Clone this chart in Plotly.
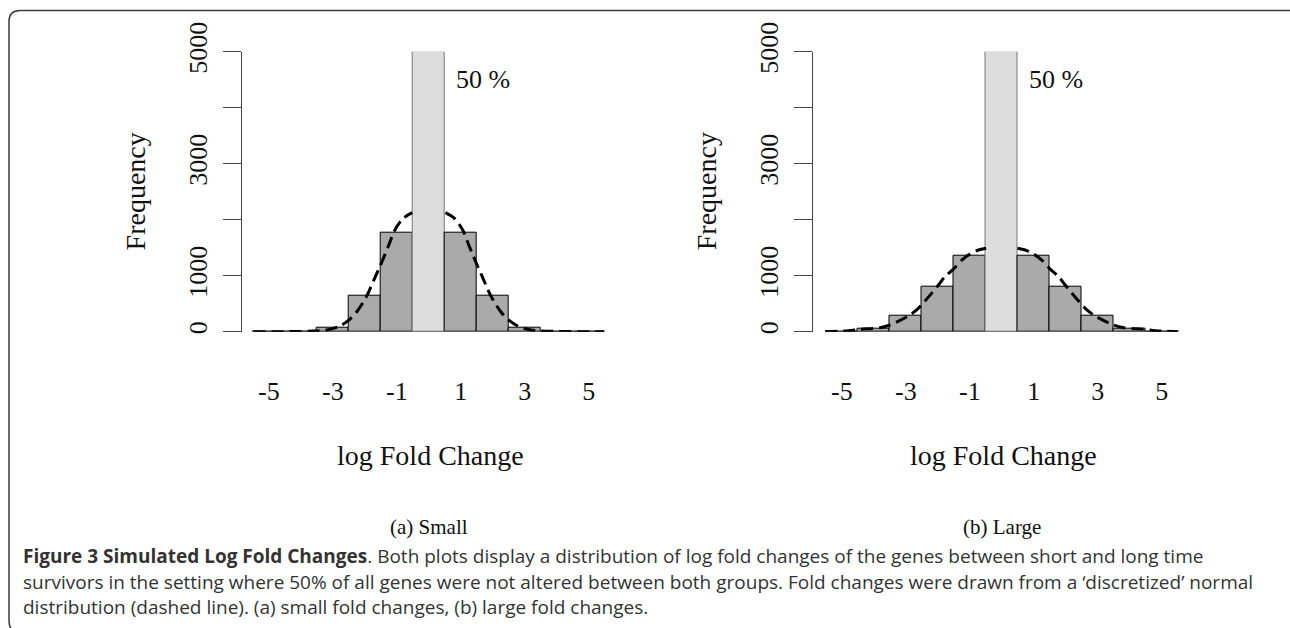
import plotly.graph_objects as go

W, H = 1290, 628

# ---------------- data ----------------
bins = [-5, -4, -3, -2, -1, 0, 1, 2, 3, 4, 5]
freq_small = [0, 0, 80, 637, 1775, 5000, 1775, 637, 80, 0, 0]
freq_large = [0, 60, 280, 800, 1352, 5000, 1352, 800, 280, 60, 0]

# dashed "discretized normal" curve (hidden part behind centre bar omitted)
curve_small_x = [-5.48, -3.19, -2.78, -2.52, -2.25, -1.94, -1.68, -1.53, -1.27, -1.06, -0.80, -0.52,
                 None,
                 0.52, 0.80, 1.06, 1.27, 1.53, 1.68, 1.94, 2.25, 2.52, 2.78, 3.19, 5.48]
curve_small_y = [0, 30, 102, 197, 357, 637, 971, 1161, 1518, 1816, 2025, 2125,
                 None,
                 2125, 2025, 1816, 1518, 1161, 971, 637, 357, 197, 102, 30, 0]
curve_large_x = [-5.52, -4.80, -4.43, -3.81, -3.49, -2.92, -2.66, -2.40, -1.98, -1.78, -1.52, -1.25, -0.99, -0.73, -0.49,
                 None,
                 0.49, 0.73, 0.99, 1.25, 1.52, 1.78, 1.98, 2.40, 2.66, 2.92, 3.49, 3.81, 4.43, 4.80, 5.52]
curve_large_y = [0, 18, 42, 71, 120, 280, 388, 548, 834, 982, 1114, 1280, 1388, 1459, 1489,
                 None,
                 1489, 1459, 1388, 1280, 1114, 982, 834, 548, 388, 280, 120, 71, 42, 18, 0]

x_tick_vals = [-5, -3, -1, 1, 3, 5]
y_tick_vals = [0, 1000, 2000, 3000, 4000, 5000]
y_tick_text = ["0", "1000", "", "3000", "", "5000"]
pct_label = "50 %"
panel_labels = ["(a) Small", "(b) Large"]
x_title = "log Fold Change"
y_title = "Frequency"

SERIF = "Liberation Serif, Times New Roman, serif"
SANS = "Open Sans, Noto Sans, sans-serif"


def px(xp):
    return xp / W


def py(yp):
    return 1 - yp / H


fig = go.Figure()

panels = [
    dict(freq=freq_small, cx=curve_small_x, cy=curve_small_y, xa="x", ya="y",
         axis_px=241.7, zero_px=428.8, label=panel_labels[0]),
    dict(freq=freq_large, cx=curve_large_x, cy=curve_large_y, xa="x2", ya="y2",
         axis_px=812.5, zero_px=1001.8, label=panel_labels[1]),
]
unit = 32.0
top_px, base_px = 51.7, 331.7

for i, p in enumerate(panels):
    colors = ["#DDDDDD" if b == 0 else "#AAAAAA" for b in bins]
    lcolors = ["#777777" if b == 0 else "#000000" for b in bins]
    fig.add_trace(go.Bar(x=bins, y=p["freq"], width=1, marker=dict(color=colors,
                         line=dict(color=lcolors, width=1)), xaxis=p["xa"], yaxis=p["ya"],
                         cliponaxis=False, showlegend=False))
    fig.add_trace(go.Scatter(x=[bins[0] - 0.5, bins[-1] + 0.5], y=[0, 0], mode="lines",
                             line=dict(color="#555555", width=1), xaxis=p["xa"], yaxis=p["ya"],
                             cliponaxis=False, showlegend=False))
    fig.add_trace(go.Scatter(x=p["cx"], y=p["cy"], mode="lines",
                             line=dict(color="#000000", width=3, dash="12px,6px", shape="spline", smoothing=0.8),
                             xaxis=p["xa"], yaxis=p["ya"], cliponaxis=False, showlegend=False,
                             connectgaps=False))

layout = dict(width=W, height=H, autosize=False, margin=dict(l=0, r=0, t=0, b=0, autoexpand=False),
              paper_bgcolor="white", plot_bgcolor="white", bargap=0, showlegend=False)

annotations = []
for i, p in enumerate(panels):
    xl = (p["axis_px"] - p["zero_px"]) / unit
    xr = 6.0
    right_px = p["zero_px"] + xr * unit
    sfx = "" if i == 0 else "2"
    layout["xaxis" + sfx] = dict(domain=[px(p["axis_px"]), px(right_px)], range=[xl, xr],
                                  showline=False, showgrid=False, zeroline=False, ticks="",
                                  tickvals=x_tick_vals, ticktext=[str(v) for v in x_tick_vals],
                                  tickfont=dict(family=SERIF, size=26, color="#111111"),
                                  ticklabelstandoff=41, anchor="y" + sfx, fixedrange=True,
                                  automargin=False)
    layout["yaxis" + sfx] = dict(domain=[py(base_px), py(top_px)], range=[0, 5000],
                                  showline=True, linecolor="#444444", linewidth=1,
                                  showgrid=False, zeroline=False, ticks="outside", ticklen=18,
                                  tickcolor="#444444", tickwidth=1,
                                  tickvals=y_tick_vals, ticktext=y_tick_text, tickangle=-90,
                                  tickfont=dict(family=SERIF, size=26, color="#111111"),
                                  ticklabelstandoff=5, anchor="x" + sfx, fixedrange=True,
                                  automargin=False)
    annotations.append(dict(x=0.8, y=4510, xref="x" + sfx, yref="y" + sfx, text=pct_label,
                            showarrow=False, xanchor="left", yanchor="middle",
                            font=dict(family=SERIF, size=26, color="#111111")))
    annotations.append(dict(x=px(p["axis_px"] - 106), y=py((top_px + base_px) / 2), xref="paper", yref="paper",
                            text=y_title, textangle=-90, showarrow=False, xanchor="center", yanchor="middle",
                            font=dict(family=SERIF, size=28, color="#111111")))
    annotations.append(dict(x=px(p["zero_px"] + 2), y=py(456), xref="paper", yref="paper",
                            text=x_title, showarrow=False, xanchor="center", yanchor="middle",
                            font=dict(family=SERIF, size=28, color="#111111")))
    annotations.append(dict(x=px(p["zero_px"]), y=py(527), xref="paper", yref="paper",
                            text=p["label"], showarrow=False, xanchor="center", yanchor="middle",
                            font=dict(family=SERIF, size=21, color="#111111")))

caption_lines = [
    "<b>Figure 3 Simulated Log Fold Changes</b>. Both plots display a distribution of log fold changes of the genes between short and long time",
    "survivors in the setting where 50% of all genes were not altered between both groups. Fold changes were drawn from a \u2018discretized\u2019 normal",
    "distribution (dashed line). (a) small fold changes, (b) large fold changes.",
]
caption_y = [556, 582, 607]
for t, yy in zip(caption_lines, caption_y):
    annotations.append(dict(x=px(21), y=py(yy), xref="paper", yref="paper", text=t, showarrow=False,
                            xanchor="left", yanchor="middle",
                            font=dict(family=SANS, size=19, color="#333333")))
layout["annotations"] = annotations

# rounded frame
L, T, R, B, r = 9, 10.5, 1299, 632, 11
path = (f"M {px(L)},{py(B - r)} L {px(L)},{py(T + r)} Q {px(L)},{py(T)} {px(L + r)},{py(T)} "
        f"L {px(R - r)},{py(T)} Q {px(R)},{py(T)} {px(R)},{py(T + r)} "
        f"L {px(R)},{py(B - r)} Q {px(R)},{py(B)} {px(R - r)},{py(B)} "
        f"L {px(L + r)},{py(B)} Q {px(L)},{py(B)} {px(L)},{py(B - r)} Z")
layout["shapes"] = [dict(type="path", xref="paper", yref="paper", path=path,
                         line=dict(color="#3c3c3c", width=1.5), fillcolor="rgba(0,0,0,0)", layer="above")]

fig.update_layout(**layout)
fig.write_html("out.html")
